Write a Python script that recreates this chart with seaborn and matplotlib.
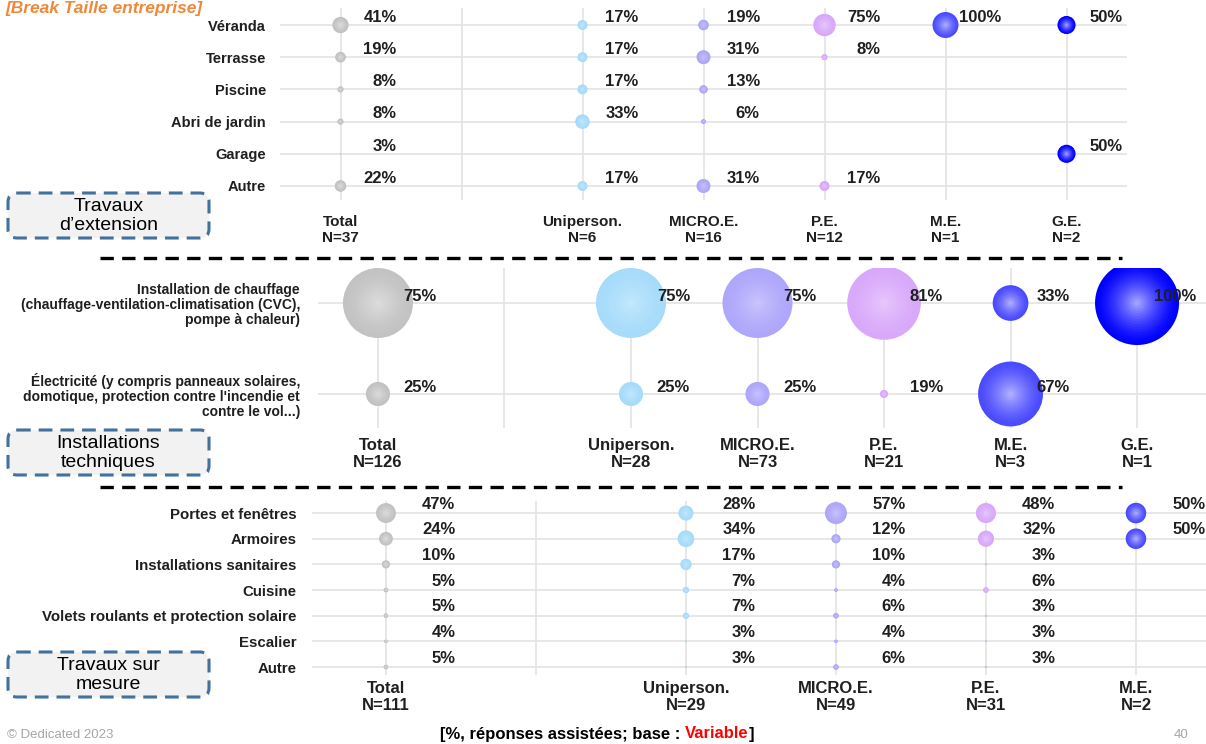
import numpy as np
import pandas as pd
import matplotlib
matplotlib.use("Agg")
import matplotlib.pyplot as plt
import seaborn as sns
from matplotlib.patches import FancyBboxPatch
from matplotlib.colors import to_rgb

# ---------------- data ----------------
cols_ext = ["Total", "", "Uniperson.", "MICRO.E.", "P.E.", "M.E.", "G.E."]
n_ext = [37, None, 6, 16, 12, 1, 2]
items_ext = ["Véranda", "Terrasse", "Piscine", "Abri de jardin", "Garage", "Autre"]
ext_total = [41, 19, 8, 8, 3, 22]
ext_uni = [17, 17, 17, 33, None, 17]
ext_micro = [19, 31, 13, 6, None, 31]
ext_pe = [75, 8, None, None, None, 17]
ext_me = [100, None, None, None, None, None]
ext_ge = [50, None, None, None, 50, None]

cols_inst = ["Total", "", "Uniperson.", "MICRO.E.", "P.E.", "M.E.", "G.E."]
n_inst = [126, None, 28, 73, 21, 3, 1]
items_inst = ["Installation de chauffage\n(chauffage-ventilation-climatisation (CVC),\npompe à chaleur)",
              "Électricité (y compris panneaux solaires,\ndomotique, protection contre l'incendie et\ncontre le vol...)"]
inst_total = [75, 25]
inst_uni = [75, 25]
inst_micro = [75, 25]
inst_pe = [81, 19]
inst_me = [33, 67]
inst_ge = [100, None]

cols_mes = ["Total", "", "Uniperson.", "MICRO.E.", "P.E.", "M.E."]
n_mes = [111, None, 29, 49, 31, 2]
items_mes = ["Portes et fenêtres", "Armoires", "Installations sanitaires", "Cuisine",
             "Volets roulants et protection solaire", "Escalier", "Autre"]
mes_total = [47, 24, 10, 5, 5, 4, 5]
mes_uni = [28, 34, 17, 7, 7, 3, 3]
mes_micro = [57, 12, 10, 4, 6, 4, 6]
mes_pe = [48, 32, 3, 6, 3, 3, 3]
mes_me = [50, 50, None, None, None, None, None]

# ---------------- style ----------------
sns.set_theme(style="white")
plt.rcParams["font.family"] = ["Liberation Sans", "DejaVu Sans"]

edge = {"Total": "#c2c2c2", "Uniperson.": "#a6dbfa", "MICRO.E.": "#aea6fa",
        "P.E.": "#d8a8fa", "M.E.": "#4a4aff", "G.E.": "#0000ff"}
center = {"Total": "#dedede", "Uniperson.": "#c4e9fd", "MICRO.E.": "#cbc5fd",
          "P.E.": "#e8c8fc", "M.E.": "#b8b8ff", "G.E.": "#b0b0ff"}
TXT = "#1f1f1f"

W, H = 1206, 744
fig = plt.figure(figsize=(W / 100, H / 100), dpi=100)


def px_axes(x0, y0, x1, y1, **kw):
    return fig.add_axes([x0 / W, 1 - y1 / H, (x1 - x0) / W, (y1 - y0) / H], **kw)


def mix(c1, c2, t):
    a, b = np.array(to_rgb(c1)), np.array(to_rgb(c2))
    return tuple(a + (b - a) * t)


def panel(ax, items, cols, ns, series, sizes, xlim, ylim, ylab_fs, xlab_fs,
          pct_fs, ypad, xpad, dx, dy, ylinespacing=1.2):
    recs = []
    for j, c in enumerate(cols):
        if c == "":
            continue
        for i, v in enumerate(series[c]):
            if v is not None:
                recs.append({"x": j, "y": i, "col": c, "val": v})
    df = pd.DataFrame(recs)
    vmin, vmax = df["val"].min(), df["val"].max()
    N = 16
    for k in range(N):
        r = 1 - k / N
        t = (1 - r) ** 1.4
        pal = {c: mix(edge[c], center[c], t) for c in df["col"].unique()}
        sns.scatterplot(data=df, x="x", y="y", hue="col", palette=pal, size="val",
                        sizes=(sizes[0] * r * r, sizes[1] * r * r),
                        size_norm=(vmin, vmax), legend=False, linewidth=0,
                        ax=ax, zorder=3 + k * 0.01)
    for _, row in df.iterrows():
        ax.annotate(f"{int(row['val'])}%", (row["x"], row["y"]),
                    xytext=(dx, dy), textcoords="offset points", ha="right",
                    va="center", fontsize=pct_fs, fontweight="bold", color=TXT,
                    zorder=10, annotation_clip=False)
    ax.set_xlim(*xlim)
    ax.set_ylim(*ylim)
    ax.set_xticks(range(len(cols)))
    ax.set_xticklabels([f"{c}\nN={n}" if c else "" for c, n in zip(cols, ns)],
                       fontsize=xlab_fs, fontweight="bold", color=TXT)
    ax.set_yticks(range(len(items)))
    ax.set_yticklabels(items, fontsize=ylab_fs, fontweight="bold", color=TXT,
                       linespacing=ylinespacing)
    ax.tick_params(axis="both", length=0)
    ax.tick_params(axis="y", pad=ypad)
    ax.tick_params(axis="x", pad=xpad)
    ax.set_xlabel("")
    ax.set_ylabel("")
    for s in ax.spines.values():
        s.set_visible(False)
    ax.grid(True, color="#e3e3e3", lw=1.2)
    ax.set_axisbelow(True)
    ax.patch.set_alpha(0)


# top panel: Travaux d'extension
ax1 = px_axes(280, 8, 1127, 200)
panel(ax1, items_ext, cols_ext, n_ext,
      {"Total": ext_total, "Uniperson.": ext_uni, "MICRO.E.": ext_micro,
       "P.E.": ext_pe, "M.E.": ext_me, "G.E.": ext_ge},
      sizes=(0.6, 350), xlim=(-0.5, 6.5), ylim=(5.435, -0.528),
      ylab_fs=10.5, xlab_fs=11, pct_fs=12, ypad=10, xpad=11, dx=40.5, dy=5.5)

# middle panel: Installations techniques
ax2 = px_axes(318, 268, 1206, 428)
panel(ax2, items_inst, cols_inst, n_inst,
      {"Total": inst_total, "Uniperson.": inst_uni, "MICRO.E.": inst_micro,
       "P.E.": inst_pe, "M.E.": inst_me, "G.E.": inst_ge},
      sizes=(33, 3660), xlim=(-0.474, 6.545), ylim=(1.374, -0.385),
      ylab_fs=10, xlab_fs=12, pct_fs=12, ypad=13, xpad=7, dx=42.5, dy=5,
      ylinespacing=1.08)

# bottom panel: Travaux sur mesure
ax3 = px_axes(312, 501, 1206, 675)
panel(ax3, items_mes, cols_mes, n_mes,
      {"Total": mes_total, "Uniperson.": mes_uni, "MICRO.E.": mes_micro,
       "P.E.": mes_pe, "M.E.": mes_me},
      sizes=(1.5, 251), xlim=(-0.493, 5.467), ylim=(6.31, -0.47),
      ylab_fs=10.8, xlab_fs=12, pct_fs=12, ypad=11, xpad=4, dx=50, dy=6.5)

# ---------------- overlay decorations ----------------
ov = fig.add_axes([0, 0, 1, 1], zorder=5)
ov.set_xlim(0, W)
ov.set_ylim(H, 0)
ov.axis("off")

for ysep in (258, 487):
    ov.plot([100, 1122], [ysep, ysep], color="black", lw=2.4,
            ls=(0, (4.0, 2.5)), solid_capstyle="butt")

boxes = [(193, "Travaux\nd’extension"), (430, "Installations\ntechniques"),
         (652, "Travaux sur\nmesure")]
for y0, label in boxes:
    ov.add_patch(FancyBboxPatch((8, y0), 201, 45,
                                boxstyle="round,pad=0,rounding_size=9",
                                fc="#f2f2f2", ec="#41719c", lw=2.2,
                                ls=(0, (4.5, 2.6))))
    ov.text(108.5, y0 + 23, label, ha="center", va="center", fontsize=14,
            color="black", linespacing=1.2)

# title
ov.text(5, 1, "[Break Taille entreprise]", ha="left", va="top",
        fontsize=12.5, fontweight="bold", fontstyle="italic", color="#f0883a")

# footer
ov.text(7, 729, "© Dedicated 2023", ha="left", va="top", fontsize=9.5,
        color="#a6a6a6")
ov.text(1174, 729, "40", ha="left", va="top", fontsize=9.5, color="#a6a6a6")

fig.canvas.draw()
rend = fig.canvas.get_renderer()
inv = ov.transData.inverted()
prefix = "[%, réponses assistées; base : "
red = "Variable"
fkw = dict(va="center", fontsize=12, fontweight="bold")
x0 = 440
ov.text(x0, 734, prefix, ha="left", color="black", **fkw)
probe1 = ov.text(x0, 734, prefix + red, ha="left", color="none", **fkw)
full_w = probe1.get_window_extent(rend)
red_t = ov.text(0, 734, red, ha="left", color="#ff0000", **fkw)
rw = red_t.get_window_extent(rend).width
x_end = inv.transform((full_w.x1, 0))[0]
red_t.set_x(x_end - rw)
ov.text(x_end, 734, "]", ha="left", color="black", **fkw)
probe1.remove()

fig.savefig("out.png", dpi=100)
